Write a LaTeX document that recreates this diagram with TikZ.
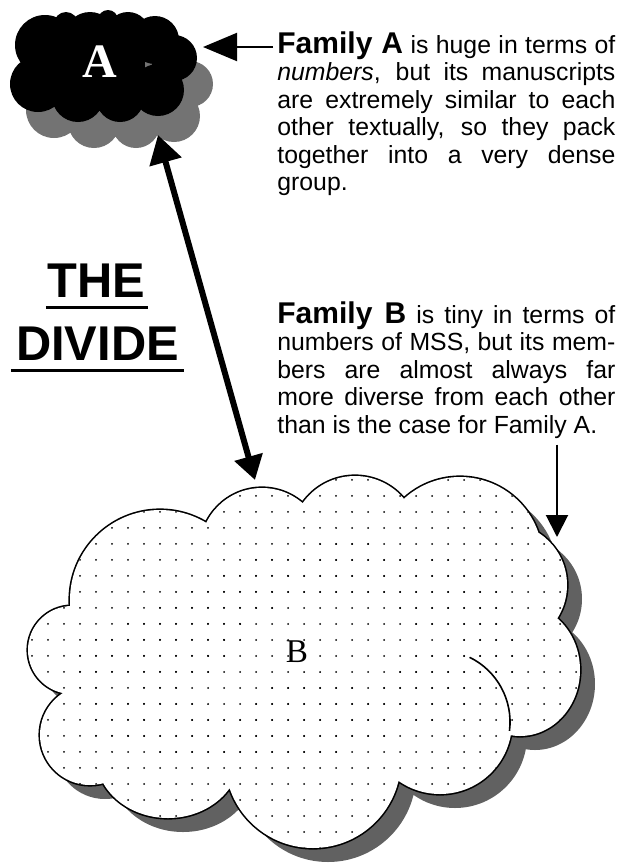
\documentclass[tikz,border=0pt]{standalone}
\usepackage{fontspec}
\setmainfont{Liberation Sans}
\newfontfamily\letterfont{Liberation Serif}
\usepackage{tikz}
\usetikzlibrary{arrows.meta, patterns.meta}

\tolerance=9999
\emergencystretch=3em
\hyphenpenalty=10000

\colorlet{shadeA}{black!55}
\colorlet{shadeB}{black!62}

\newcommand\bodysize{\fontsize{12.4}{13.75}\selectfont}
\newcommand\headsize{\fontsize{15}{13.75}\selectfont\bfseries}

% cloud outlines, in pixels of the page
\newcommand\blobA{(45,45) circle[radius=30] (90,38) circle[radius=26]
  (128,34) circle[radius=22] (155,40) circle[radius=24] (174,58) circle[radius=23]
  (38,84) circle[radius=28] (78,96) circle[radius=26] (120,98) circle[radius=24]
  (158,90) circle[radius=26] (66,24) circle[radius=12] (108,20) circle[radius=10]
  (100,65) circle[radius=45]}
\newcommand\bumpsB{(72,650) circle[radius=44] (90,735) circle[radius=50]
  (168,756) ellipse[x radius=72, y radius=62] (313,760) circle[radius=88]
  (440,722) circle[radius=72] (520,670) ellipse[x radius=60, y radius=66]
  (505,585) circle[radius=62] (460,560) circle[radius=83] (355,540) circle[radius=64]
  (262,550) circle[radius=62] (160,600) circle[radius=90]}
\newcommand\coreB{(72,650) -- (90,735) -- (168,756) -- (313,760) -- (440,722)
  -- (520,670) -- (505,585) -- (460,560) -- (355,540) -- (262,550) -- (160,600) -- cycle}

\begin{document}
\begin{tikzpicture}[
  x=0.5pt, y=-0.5pt,
  note/.style={anchor=north west, text width=169pt, align=justify, inner sep=0pt, font=\bodysize},
  banner/.style={anchor=base, inner sep=0pt, font=\fontsize{24.4}{26}\selectfont\bfseries},
  underbar/.style={line width=1.5pt},
  pointer/.style={line width=1pt, shorten <=2pt, -{Triangle[length=17pt, width=14pt]}},
  smallpointer/.style={line width=1pt, shorten <=3pt, -{Triangle[length=11pt, width=11pt]}},
  divider/.style={line width=3pt, {Triangle[length=14pt, width=16pt]}-{Triangle[length=12pt, width=14pt]}},
  dotted fill/.style={pattern={Dots[radius=0.5pt, distance=8pt]}}
]
\path[use as bounding box] (0,0) rectangle (621,864);

% Cloud A: dense black group with its shadow
\fill[shadeA, shift={(16,26)}] \blobA;
\fill[black] \blobA;
\node[font=\letterfont\fontsize{24}{24}\selectfont\bfseries, text=white] (labelA) at (100,62) {A};

% Cloud B: big dotted group with its shadow
\fill[shadeB, shift={(15,14)}] \bumpsB;
\fill[shadeB, shift={(15,14)}] \coreB;
\draw[line width=1.6pt] \bumpsB;
\fill[white] \bumpsB;
\fill[white] \coreB;
\fill[dotted fill] \bumpsB;
\fill[dotted fill] \coreB;
\draw[line width=0.8pt] (469.6,657.3) arc[start angle=-64, end angle=7, radius=72];
\node[font=\letterfont\fontsize{16.6}{18}\selectfont] (labelB) at (297,652) {B};

% Title on the left
\node[banner] (the) at (96,297) {THE};
\node[banner] (divide) at (97.5,360) {DIVIDE};
\draw[underbar] ([shift={(-1,10)}]the.base west) -- ([shift={(3,10)}]the.base east);
\draw[underbar] ([shift={(-5,10)}]divide.base west) -- ([shift={(5,10)}]divide.base east);

% Notes on the right
\node[note] (famA) at (277,31) {{\headsize Family A} is huge in terms of\linebreak
  \textit{numbers}, but its manuscripts\linebreak are extremely similar to each\linebreak
  other textually, so they pack\linebreak together into a very dense\linebreak group.};
\node[note] (famB) at (277,301) {{\headsize Family B} is tiny in terms of\linebreak
  numbers of MSS, but its mem-\linebreak bers are almost always far\linebreak
  more diverse from each other\linebreak than is the case for Family A.};

% Connectors
\coordinate (edgeA) at (203,47);
\coordinate (footA) at (158,135);
\coordinate (topB) at (255,480);
\coordinate (edgeB) at (557,537);
\draw[pointer] (famA.north west |- edgeA) -- (edgeA);
\draw[divider] (footA) -- (topB);
\draw[smallpointer] (edgeB |- famB.south) -- (edgeB);

\end{tikzpicture}
\end{document}
